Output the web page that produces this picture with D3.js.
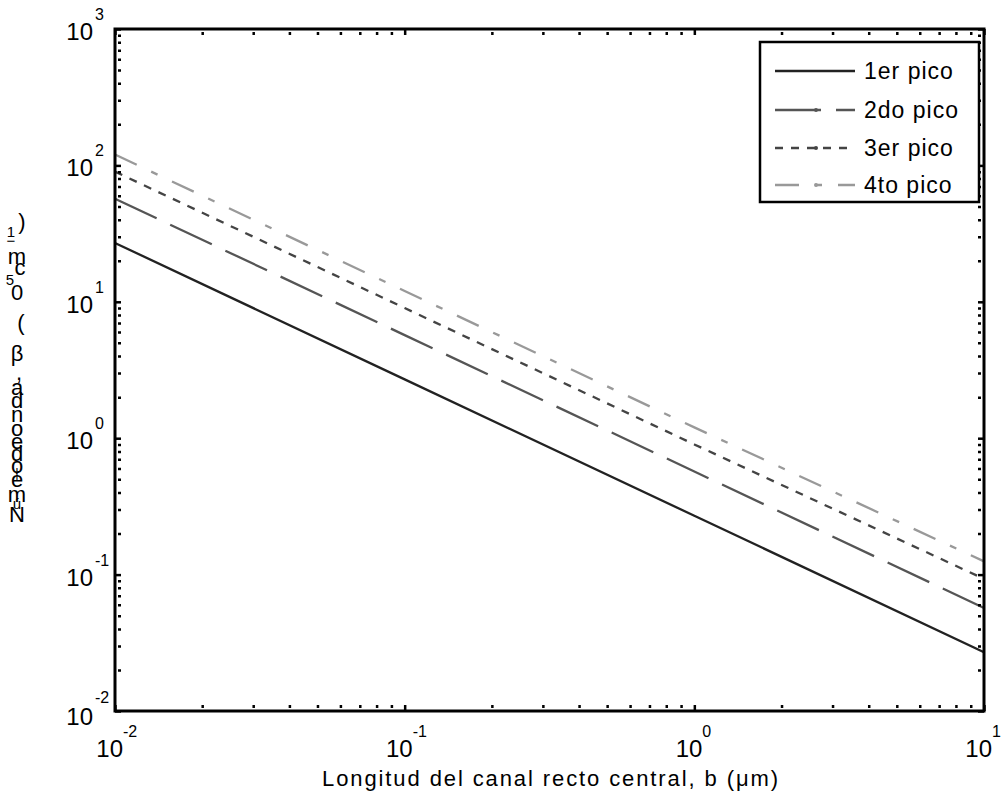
<!DOCTYPE html>
<html>
<head>
<meta charset="utf-8">
<script src="https://cdn.jsdelivr.net/npm/d3@7"></script>
<style>
  body { margin: 0; background: #fff; }
  svg { font-family: "Liberation Sans", Arial, sans-serif; }
</style>
</head>
<body>
<div id="chart"></div>
<script>
// Datos (log-log, rectas de pendiente -1)
const bValues = [0.01, 0.1, 1, 10];
const pico1 = [27, 2.7, 0.27, 0.027];
const pico2 = [57, 5.7, 0.57, 0.057];
const pico3 = [90, 9.0, 0.90, 0.093];
const pico4 = [120, 12, 1.2, 0.125];

const seriesNames = ["1er pico", "2do pico", "3er pico", "4to pico"];
const xTicks = [1e-2, 1e-1, 1e0, 1e1];
const xTickExp = ["-2", "-1", "0", "1"];
const yTicks = [1e-2, 1e-1, 1e0, 1e1, 1e2, 1e3];
const yTickExp = ["-2", "-1", "0", "1", "2", "3"];

const W = 1003, H = 801;
const pLeft = 115, pRight = 984, pTop = 29, pBottom = 711;

const svg = d3.select("#chart").append("svg")
    .attr("width", W)
    .attr("height", H);

const x = d3.scaleLog().domain([1e-2, 1e1]).range([pLeft, pRight]);
const y = d3.scaleLog().domain([1e-2, 1e3]).range([pBottom, pTop]);

// ticks menores 2..9 de cada década
function minors(dom) {
    const out = [];
    for (let e = Math.round(Math.log10(dom[0])); e < Math.round(Math.log10(dom[1])); e++) {
        for (let k = 2; k <= 9; k++) out.push(k * Math.pow(10, e));
    }
    return out;
}

const styles = [
    { color: "#222", dash: null },
    { color: "#555", dash: "46,15" },
    { color: "#444", dash: "8,8" },
    { color: "#999", dash: "24,16,7,16" }
];
const allSeries = [pico1, pico2, pico3, pico4];

svg.append("clipPath").attr("id", "clip")
    .append("rect")
    .attr("x", pLeft).attr("y", pTop)
    .attr("width", pRight - pLeft).attr("height", pBottom - pTop);

const line = d3.line()
    .x(d => x(d[0]))
    .y(d => y(d[1]));

svg.append("g").attr("clip-path", "url(#clip)")
    .selectAll("path")
    .data(allSeries)
    .enter()
    .append("path")
    .attr("d", s => line(bValues.map((b, i) => [b, s[i]])))
    .attr("fill", "none")
    .attr("stroke", (s, i) => styles[i].color)
    .attr("stroke-width", 2.3)
    .attr("stroke-dasharray", (s, i) => styles[i].dash);

// ejes (ticks hacia dentro)
function drawAxis(axisFn, scale, ticks, transform, minor) {
    const g = svg.append("g")
        .attr("transform", transform)
        .call(axisFn(scale).tickValues(ticks).tickSize(-6).tickSizeOuter(0).tickFormat(""));
    g.select(".domain").remove();
    g.selectAll(".tick line")
        .attr("stroke", "#000")
        .attr("stroke-width", 2.5)
        .attr("stroke-dasharray", minor ? "0,3,3" : null);
}
[[d3.axisBottom, x, xTicks, `translate(0,${pBottom})`],
 [d3.axisTop, x, xTicks, `translate(0,${pTop})`],
 [d3.axisLeft, y, yTicks, `translate(${pLeft},0)`],
 [d3.axisRight, y, yTicks, `translate(${pRight},0)`]].forEach(a => {
    drawAxis(a[0], a[1], a[2], a[3], false);
    drawAxis(a[0], a[1], minors(a[1].domain()), a[3], true);
});

// marco
svg.append("rect")
    .attr("x", pLeft).attr("y", pTop)
    .attr("width", pRight - pLeft).attr("height", pBottom - pTop)
    .attr("fill", "none")
    .attr("stroke", "#000")
    .attr("stroke-width", 3);

// etiquetas de ticks X
xTicks.forEach((t, i) => {
    svg.append("text")
        .attr("x", x(t) + 8).attr("y", 757)
        .attr("text-anchor", "end")
        .style("font-size", "24px")
        .text("10");
    svg.append("text")
        .attr("x", x(t) + 8).attr("y", 737)
        .style("font-size", "16px")
        .text(xTickExp[i]);
});

// etiquetas de ticks Y
yTicks.forEach((t, i) => {
    svg.append("text")
        .attr("x", 93).attr("y", y(t) + (i === 0 ? 14 : 11))
        .attr("text-anchor", "end")
        .style("font-size", "24px")
        .text("10");
    svg.append("text")
        .attr("x", 95).attr("y", y(t) - (i === 0 ? 8 : 9))
        .style("font-size", "16px")
        .text(yTickExp[i]);
});

// título eje X
svg.append("text")
    .attr("x", 550).attr("y", 786)
    .attr("text-anchor", "middle")
    .attr("textLength", 456)
    .attr("lengthAdjust", "spacing")
    .style("font-size", "22px")
    .text("Longitud del canal recto central, b (μm)");

// título eje Y (caracteres apilados como en la figura original)
const yLabelChars = [
    [")", 22, 221, 22], ["1", 11, 231, 15], ["−", 11, 240, 15],
    ["m", 17, 256, 22], ["c", 20, 267, 22], ["5", 10, 279, 15],
    ["0", 17, 292, 22], ["(", 21, 322, 22], ["β", 17, 353, 22],
    [",", 19, 372, 22], ["a", 17, 387, 22], ["d", 17, 400, 22],
    ["n", 17, 414, 22], ["o", 17, 428, 22], ["e", 17, 441, 22],
    ["d", 17, 453, 22], ["o", 17, 465, 22], ["|", 17, 472, 13],
    ["é", 17, 479, 22], ["m", 17, 494, 22], ["ú", 17, 503, 15],
    ["N", 17, 514, 22]
];
svg.selectAll(".ylab")
    .data(yLabelChars)
    .enter()
    .append("text")
    .attr("class", "ylab")
    .attr("x", d => d[1])
    .attr("y", d => d[2])
    .attr("text-anchor", "middle")
    .attr("dominant-baseline", "central")
    .style("font-size", d => d[3] + "px")
    .text(d => d[0]);

// leyenda
const lg = svg.append("g");
lg.append("rect")
    .attr("x", 760).attr("y", 42)
    .attr("width", 219).attr("height", 160)
    .attr("fill", "#fff")
    .attr("stroke", "#000")
    .attr("stroke-width", 2.5);
const legendY = [71, 110, 148, 185];
seriesNames.forEach((name, i) => {
    lg.append("line")
        .attr("x1", 775).attr("x2", 855)
        .attr("y1", legendY[i]).attr("y2", legendY[i])
        .attr("stroke", styles[i].color)
        .attr("stroke-width", 2.3)
        .attr("stroke-dasharray", styles[i].dash);
    if (i > 0) {
        lg.append("circle")
            .attr("cx", 816).attr("cy", legendY[i])
            .attr("r", 2)
            .attr("fill", styles[i].color);
    }
    lg.append("text")
        .attr("x", 864).attr("y", legendY[i] + 8)
        .style("font-size", "23px")
        .style("letter-spacing", "1px")
        .text(name);
});
</script>
</body>
</html>
